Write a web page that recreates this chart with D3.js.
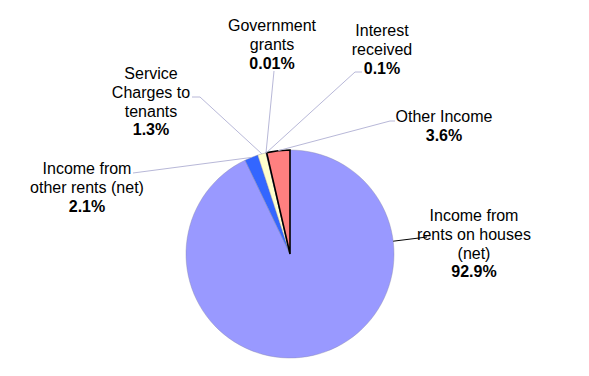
<!DOCTYPE html>
<html lang="en">
<head>
<meta charset="utf-8">
<script src="https://d3js.org/d3.v7.min.js"></script>
<style>
  body { margin: 0; background: #fff; }
  text { font-family: "Liberation Sans", Arial, sans-serif; font-size: 16px; fill: #000; }
</style>
</head>
<body>
<div id="chart"></div>
<script>
// data
var categories = ["Income from rents on houses (net)", "Income from other rents (net)",
  "Service Charges to tenants", "Government grants", "Interest received", "Other Income"];
var values = [92.9, 2.1, 1.3, 0.01, 0.1, 3.6];
var pctLabels = ["92.9%", "2.1%", "1.3%", "0.01%", "0.1%", "3.6%"];
var labelLines = [
  ["Income from", "rents on houses", "(net)"],
  ["Income from", "other rents (net)"],
  ["Service", "Charges to", "tenants"],
  ["Government", "grants"],
  ["Interest", "received"],
  ["Other Income"]
];
var colors = ["#9999ff", "#3366ff", "#ffffcc", "#ccffff", "#660066", "#ff8080"];

var width = 589, height = 376,
  cx = 290, cy = 254, radius = 104, lh = 18.8;

// label layout: text centre x, first baseline y, leader anchor, optional elbow
var layout = [
  { x: 474, y: 221, ax: 427, ay: 237, lead: "#000" },
  { x: 87, y: 174, ax: 133, ay: 173 },
  { x: 151, y: 79, ax: 192, ay: 97, ex: 200, ey: 97 },
  { x: 272, y: 31, ax: 274, ay: 71 },
  { x: 382, y: 36, ax: 362, ay: 72, ex: 355, ey: 72 },
  { x: 444, y: 122, ax: 395, ay: 121, ex: 390, ey: 121 }
];

var svg = d3.select("#chart").append("svg")
  .attr("width", width).attr("height", height);

var pie = d3.pie().sort(null).value(function(d) { return d; });
var arcs = pie(values);
var arc = d3.arc().innerRadius(0).outerRadius(radius);

var g = svg.append("g").attr("transform", "translate(" + cx + "," + cy + ")");

// leader lines first so the pie sits on top
arcs.forEach(function(d, i) {
  var L = layout[i];
  var ang;
  if (i === 0) {
    ang = Math.atan2(L.ax - cx, -(L.ay - cy));
  } else {
    ang = (d.startAngle + d.endAngle) / 2;
  }
  var px = cx + radius * Math.sin(ang), py = cy - radius * Math.cos(ang);
  var pts = [[L.ax, L.ay]];
  if (L.ex !== undefined) pts.push([L.ex, L.ey]);
  pts.push([px, py]);
  svg.append("path")
    .attr("d", d3.line()(pts))
    .attr("fill", "none")
    .attr("stroke", L.lead || "#b8b8d8")
    .attr("stroke-width", L.lead ? 1 : 1);
});

g.selectAll("path.slice")
  .data(arcs)
  .enter().append("path")
  .attr("class", "slice")
  .attr("d", arc)
  .attr("fill", function(d, i) { return colors[i]; })
  .attr("stroke", function(d, i) { return i === 5 ? "#000" : "#8888aa"; })
  .attr("stroke-width", function(d, i) { return i === 5 ? 1.6 : 0.4; });

// labels
categories.forEach(function(c, i) {
  var L = layout[i];
  var t = svg.append("text").attr("text-anchor", "middle");
  labelLines[i].forEach(function(line, k) {
    t.append("tspan").attr("x", L.x).attr("y", L.y + k * lh).text(line);
  });
  t.append("tspan").attr("x", L.x).attr("y", L.y + labelLines[i].length * lh)
    .attr("font-weight", "bold").text(pctLabels[i]);
});
</script>
</body>
</html>
